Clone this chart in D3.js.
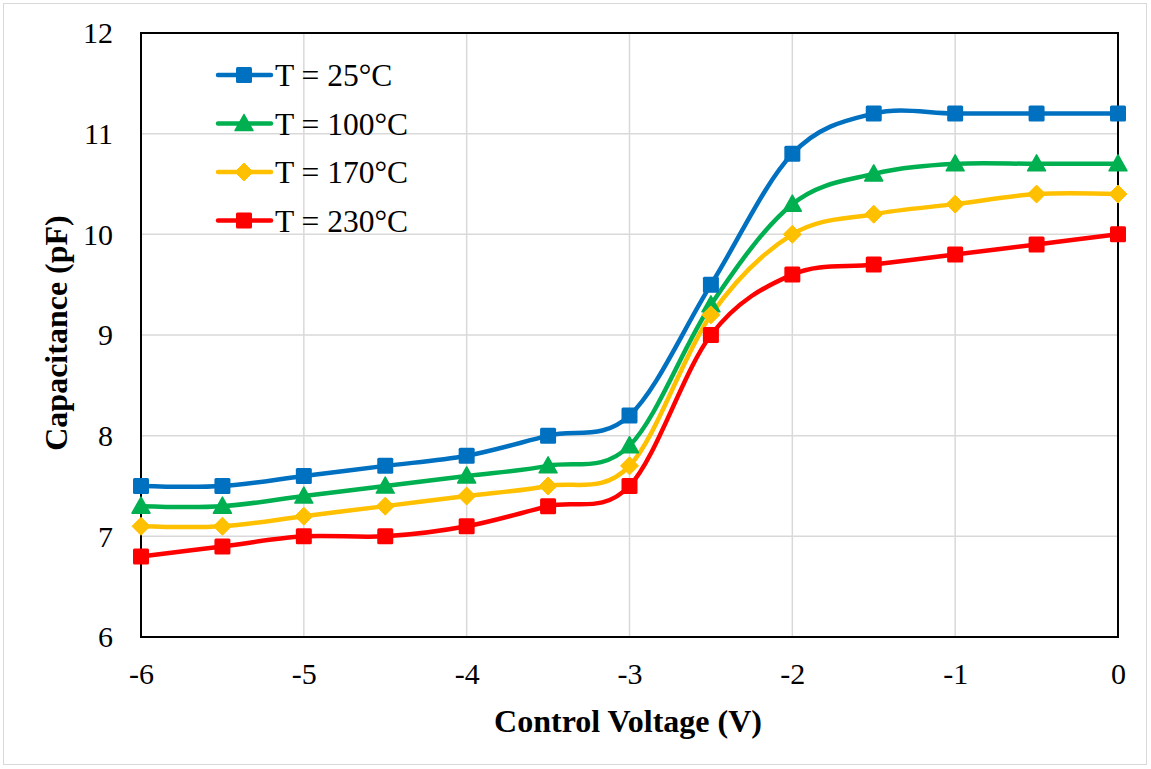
<!DOCTYPE html>
<html><head><meta charset="utf-8">
<script src="https://cdn.jsdelivr.net/npm/d3@7"></script>
<style>body{margin:0;background:#fff;}</style>
</head><body>
<svg id="c" width="1151" height="769"></svg>
<script>
const voltage = [-6,-5.5,-5,-4.5,-4,-3.5,-3,-2.5,-2,-1.5,-1,-0.5,0];
const t25  = [7.5,7.5,7.6,7.7,7.8,8.0,8.2,9.5,10.8,11.2,11.2,11.2,11.2];
const t100 = [7.3,7.3,7.4,7.5,7.6,7.7,7.9,9.3,10.3,10.6,10.7,10.7,10.7];
const t170 = [7.1,7.1,7.2,7.3,7.4,7.5,7.7,9.2,10.0,10.2,10.3,10.4,10.4];
const t230 = [6.8,6.9,7.0,7.0,7.1,7.3,7.5,9.0,9.6,9.7,9.8,9.9,10.0];
const seriesNames = ["T = 25°C","T = 100°C","T = 170°C","T = 230°C"];
const xTicks = [-6,-5,-4,-3,-2,-1,0];
const yTicks = [6,7,8,9,10,11,12];

const colors = ["#0070C0","#00B050","#FFC000","#FF0000"];
const shapes = ["square","triangle","diamond","square"];
const series = [t25,t100,t170,t230].map((v,i)=>({name:seriesNames[i],values:v,color:colors[i],shape:shapes[i]}));
const FONT = "'Liberation Serif', 'Times New Roman', serif";
const FS = 30, FL = 31.5, FT = 32;

const svg = d3.select("#c");
svg.append("rect").attr("x",3.5).attr("y",3.5).attr("width",1143).attr("height",761)
  .attr("fill","#fff").attr("stroke","#d9d9d9").attr("stroke-width",1);

const L=141, R=1118, T=33, B=637;
const x = d3.scaleLinear().domain([-6,0]).range([L,R]);
const y = d3.scaleLinear().domain([6,12]).range([B,T]);

svg.append("g").selectAll("line").data(xTicks).join("line")
  .attr("x1",d=>x(d)).attr("x2",d=>x(d)).attr("y1",T).attr("y2",B)
  .attr("stroke","#d9d9d9").attr("stroke-width",1.5);
svg.append("g").selectAll("line").data(yTicks).join("line")
  .attr("x1",L).attr("x2",R).attr("y1",d=>y(d)).attr("y2",d=>y(d))
  .attr("stroke","#d9d9d9").attr("stroke-width",1.5);

const fmt = d=>String(d);
const xAxis = svg.append("g").attr("transform",`translate(0,${B})`)
  .call(d3.axisBottom(x).tickValues(xTicks).tickSize(0).tickPadding(26).tickFormat(fmt));
const yAxis = svg.append("g").attr("transform",`translate(${L},0)`)
  .call(d3.axisLeft(y).tickValues(yTicks).tickSize(0).tickPadding(28).tickFormat(fmt));
[xAxis,yAxis].forEach(a=>{a.select(".domain").remove();
  a.style("font-family",FONT).attr("font-size",FS);
  a.selectAll("text").style("font-family",FONT).attr("font-size",FS).attr("fill","#000");});
yAxis.selectAll("text").attr("dy","0.33em");
xAxis.selectAll("text").attr("dy","0.71em");

svg.append("rect").attr("x",L).attr("y",T).attr("width",R-L).attr("height",B-T)
  .attr("fill","none").attr("stroke","#000").attr("stroke-width",2);

svg.append("text").attr("x",628).attr("y",732).attr("text-anchor","middle").style("font-family",FONT)
  .attr("font-size",FT).attr("font-weight","bold").text("Control Voltage (V)");
svg.append("text").attr("transform",`translate(67,333) rotate(-90)`).attr("text-anchor","middle").style("font-family",FONT)
  .attr("font-size",FT).attr("font-weight","bold").text("Capacitance (pF)");

const line = d3.line().x((d,i)=>x(voltage[i])).y(d=>y(d)).curve(d3.curveCardinal.tension(0));

function marker(g, shape, color, cx, cy){
  if(shape==="square"){
    g.append("rect").attr("x",cx-8).attr("y",cy-8).attr("width",16).attr("height",16).attr("rx",1.5)
      .attr("fill",color);
  } else if(shape==="triangle"){
    g.append("path").attr("d",`M${cx},${cy-9}L${cx+9},${cy+7}L${cx-9},${cy+7}Z`).attr("fill",color)
      .attr("stroke",color).attr("stroke-width",1.5).attr("stroke-linejoin","round");
  } else {
    g.append("path").attr("d",`M${cx},${cy-9}L${cx+9},${cy}L${cx},${cy+9}L${cx-9},${cy}Z`).attr("fill",color)
      .attr("stroke",color).attr("stroke-width",1).attr("stroke-linejoin","round");
  }
}

const plot = svg.append("g");
series.forEach(s=>{
  plot.append("path").attr("d",line(s.values)).attr("fill","none").attr("stroke",s.color)
    .attr("stroke-width",4.5).attr("stroke-linecap","round");
});
series.forEach(s=>{
  const g = plot.append("g");
  s.values.forEach((v,i)=>marker(g,s.shape,s.color,x(voltage[i]),y(v)));
});

const lg = svg.append("g");
series.forEach((s,i)=>{
  const yy = 75 + i*48.5;
  lg.append("line").attr("x1",218).attr("x2",271).attr("y1",yy).attr("y2",yy)
    .attr("stroke",s.color).attr("stroke-width",4.5).attr("stroke-linecap","round");
  marker(lg,s.shape,s.color,244,yy);
  lg.append("text").attr("x",275).attr("y",yy).attr("dy","0.35em").style("font-family",FONT).attr("font-size",FL).text(s.name);
});
</script>
</body></html>
